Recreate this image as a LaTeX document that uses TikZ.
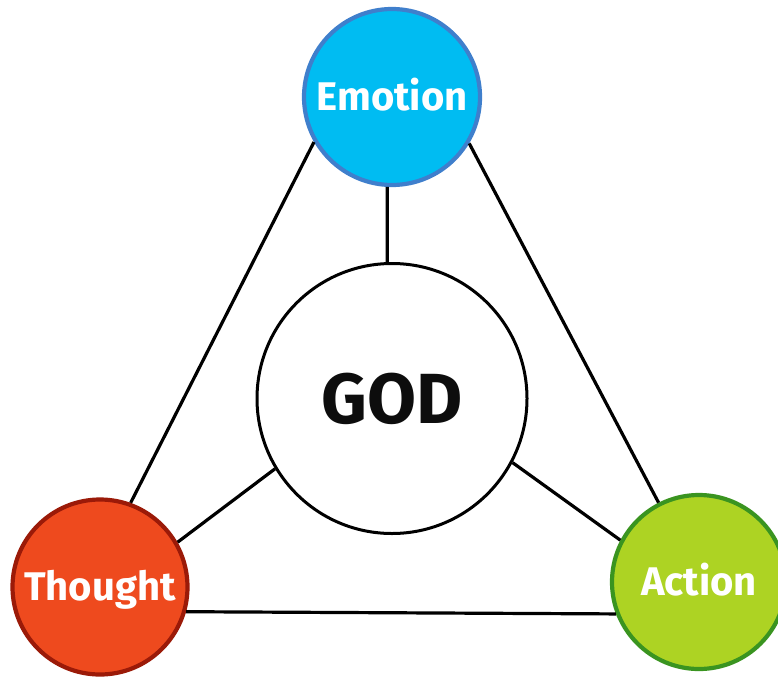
\documentclass[tikz,border=0pt]{standalone}
\usepackage{fontspec}
\setmainfont{Fira Sans}
\definecolor{emofill}{HTML}{00BCF2}
\definecolor{emoline}{HTML}{3F7FCC}
\definecolor{thofill}{HTML}{EE4A1E}
\definecolor{tholine}{HTML}{9B1A08}
\definecolor{actfill}{HTML}{ADD323}
\definecolor{actline}{HTML}{3A9420}
\begin{document}
\begin{tikzpicture}[x=1pt,y=-1pt,
  bubble/.style={circle,line width=4.2pt,inner sep=0pt,text=white,text height=27.5pt,text depth=0pt,font=\fontsize{40}{42}\selectfont\bfseries},
  godcircle/.style={circle,draw=black,line width=3pt,fill=white,inner sep=0pt,minimum size=270pt,text height=49pt,text depth=0pt,font=\fontsize{71}{73}\selectfont\bfseries,text={black!95}},
  link/.style={line width=3.2pt,black}]
\useasboundingbox (0,0) rectangle (778,677);
\node[godcircle] (god) at (392,398.5) {GOD};
\node[bubble,draw=emoline,fill=emofill,minimum size=176pt] (emo) at (392,97) {Emotion};
\node[bubble,draw=tholine,fill=thofill,minimum size=175pt] (tho) at (100,587) {Thought};
\node[bubble,draw=actline,fill=actfill,minimum size=174pt] (act) at (699,582) {Action};
\draw[link] (emo.267) -- (god.92);
\draw[link] (emo.210) -- (tho.70);
\draw[link] (emo.329) -- (act.117);
\draw[link] (tho.344) -- (act.201);
\draw[link] (god.211) -- (tho.30.5);
\draw[link] (god.332) -- (act.152.5);
\end{tikzpicture}
\end{document}
